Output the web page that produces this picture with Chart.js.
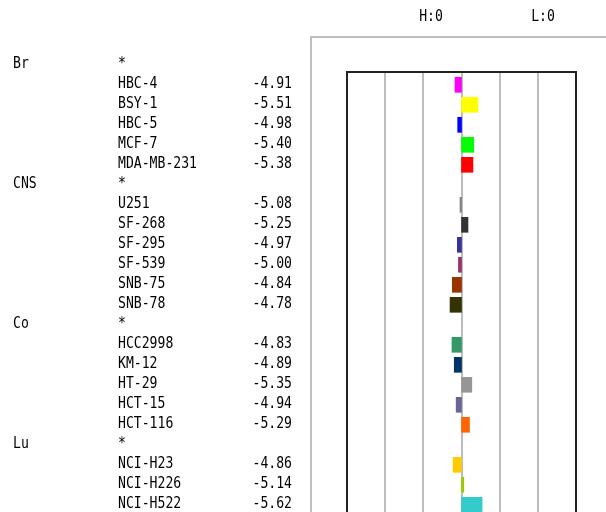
<!DOCTYPE html>
<html>
<head>
<meta charset="utf-8">
<script src="https://cdn.jsdelivr.net/npm/chart.js@4"></script>
<style>
  html, body { margin: 0; padding: 0; background: #fff; overflow: hidden; }
  #wrap { position: relative; width: 606px; height: 552px; }
</style>
</head>
<body>
<div id="wrap"><canvas id="meanGraph"></canvas></div>
<script>
// panel of each cell line, names, log GI50 values and bar colours
const panels = ['Br', 'Br', 'Br', 'Br', 'Br',
  'CNS', 'CNS', 'CNS', 'CNS', 'CNS', 'CNS',
  'Co', 'Co', 'Co', 'Co', 'Co',
  'Lu', 'Lu', 'Lu'];
const cellLines = ['HBC-4', 'BSY-1', 'HBC-5', 'MCF-7', 'MDA-MB-231',
  'U251', 'SF-268', 'SF-295', 'SF-539', 'SNB-75', 'SNB-78',
  'HCC2998', 'KM-12', 'HT-29', 'HCT-15', 'HCT-116',
  'NCI-H23', 'NCI-H226', 'NCI-H522'];
const logGI50 = [-4.91, -5.51, -4.98, -5.40, -5.38,
  -5.08, -5.25, -4.97, -5.00, -4.84, -4.78,
  -4.83, -4.89, -5.35, -4.94, -5.29,
  -4.86, -5.14, -5.62];
const barColors = ['#ff00ff', '#ffff00', '#0000ff', '#00ff00', '#ff0000',
  '#808080', '#333333', '#333399', '#993366', '#993300', '#333300',
  '#339966', '#003366', '#969696', '#666699', '#ff6600',
  '#ffcc00', '#99cc00', '#33cccc'];
const MEAN = -5.08;   // mean log GI50 (centre line)
const RANGE = 3;      // +/- 3 log units shown

// build the rows: a header row for each panel, then its cell lines
const rows = [];
const points = [];
let lastPanel = null;
cellLines.forEach((name, i) => {
  if (panels[i] !== lastPanel) {
    rows.push({ header: true, panel: panels[i] });
    lastPanel = panels[i];
  }
  points.push({ y: rows.length, x: [MEAN, logGI50[i]] });
  rows.push({ header: false, name: name, value: logGI50[i] });
});

const FONT = '16px "DejaVu Sans Mono", "Liberation Mono", monospace';

// narrow text, like the original half-width font
function drawText(ctx, text, x, y, align) {
  ctx.save();
  ctx.translate(x, y);
  ctx.scale(0.82, 1);
  ctx.textAlign = align;
  ctx.fillText(text, 0, 0);
  ctx.restore();
}

const meanGraphPlugin = {
  id: 'meanGraph',
  beforeDatasetsDraw(chart) {
    const ctx = chart.ctx;
    const area = chart.chartArea;
    const xs = chart.scales.x;
    ctx.save();
    // outer grey box
    ctx.strokeStyle = '#c0c0c0';
    ctx.lineWidth = 2;
    ctx.strokeRect(311, 37, 400, 700);
    // grid lines every log unit from the mean
    for (let k = -RANGE + 1; k < RANGE; k++) {
      const px = Math.round(xs.getPixelForValue(MEAN + k));
      ctx.strokeStyle = '#bdbdbd';
      ctx.lineWidth = 2;
      ctx.beginPath();
      ctx.moveTo(px, area.top);
      ctx.lineTo(px, area.bottom);
      ctx.stroke();
    }
    // black frame
    ctx.strokeStyle = '#222';
    ctx.lineWidth = 2;
    ctx.strokeRect(area.left, area.top, area.right - area.left, area.bottom - area.top + 20);
    ctx.restore();
  },
  afterDraw(chart) {
    const ctx = chart.ctx;
    const ys = chart.scales.y;
    ctx.save();
    ctx.font = FONT;
    ctx.fillStyle = '#000';
    ctx.textBaseline = 'middle';
    rows.forEach((r, k) => {
      const py = ys.getPixelForValue(k) - 1;
      if (r.header) {
        drawText(ctx, r.panel, 13, py, 'left');
        drawText(ctx, '*', 118, py, 'left');
      } else {
        drawText(ctx, r.name, 118, py, 'left');
        drawText(ctx, r.value.toFixed(2), 292, py, 'right');
      }
    });
    drawText(ctx, 'H:0', 431, 17, 'center');
    drawText(ctx, 'L:0', 543, 17, 'center');
    ctx.restore();
  }
};

new Chart(document.getElementById('meanGraph'), {
  type: 'bar',
  data: {
    datasets: [{
      data: points,
      backgroundColor: barColors,
      borderWidth: 0,
      barThickness: 15,
      minBarLength: 1.5
    }]
  },
  options: {
    indexAxis: 'y',
    responsive: true,
    maintainAspectRatio: false,
    animation: false,
    layout: { padding: { left: 347, right: 30, top: 72, bottom: 0 } },
    plugins: {
      legend: { display: false },
      tooltip: { enabled: false }
    },
    scales: {
      x: { type: 'linear', reverse: true, min: MEAN - RANGE, max: MEAN + RANGE, display: false },
      y: { type: 'linear', reverse: true, offset: false, min: 0.36, max: 24.36, display: false }
    }
  },
  plugins: [meanGraphPlugin]
});
</script>
</body>
</html>
